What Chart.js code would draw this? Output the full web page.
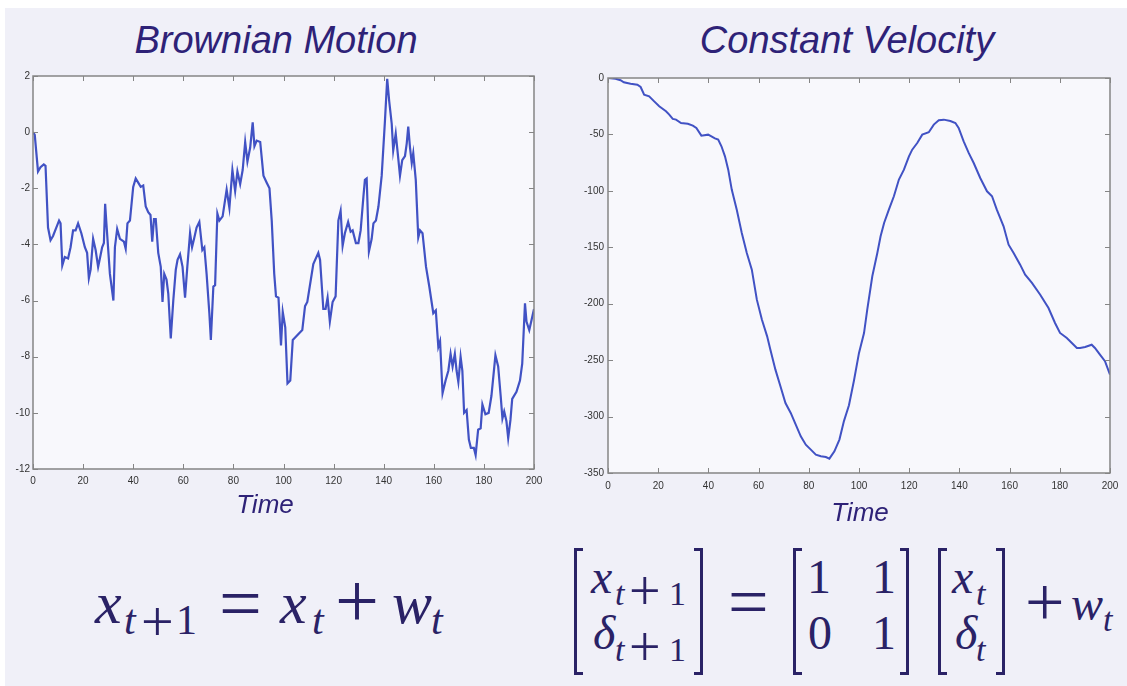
<!DOCTYPE html>
<html>
<head>
<meta charset="utf-8">
<title>Brownian Motion and Constant Velocity</title>
<script src="https://cdn.jsdelivr.net/npm/chart.js@4.4.1/dist/chart.umd.min.js"></script>
<style>
  html, body { margin: 0; padding: 0; background: #ffffff; width: 1127px; height: 686px; overflow: hidden; position: relative; }
  #stage { position: absolute; left: 5px; top: 8px; width: 1122px; height: 678px; background: #f0f0f8; }
  canvas { position: absolute; }
  #bmCanvas { left: 0; top: 0; }
  #cvCanvas { left: 560px; top: 0; }
  .ttl { position: absolute; font: italic 38px "Liberation Sans", Arial, sans-serif; line-height: 38px;
         color: #2e2277; white-space: nowrap; transform: translateX(-50%); }
  .axt { position: absolute; font: italic 26px "Liberation Sans", Arial, sans-serif; line-height: 26px;
         color: #2e2277; white-space: nowrap; transform: translateX(-50%); }
  /* formula glyphs: each block has line-height 0, so its baseline sits 0.3375em below its top */
  .p { position: absolute; line-height: 0; white-space: nowrap; color: #2a2266;
       font-family: "Liberation Serif", "Times New Roman", serif; }
  .i { font-style: italic; }
  .br { position: absolute; width: 9px; border: 3px solid #2a2266; box-sizing: border-box; }
  .br.l { border-right: none; }
  .br.r { border-left: none; }
</style>
</head>
<body>
<div id="stage"></div>

<div class="ttl" style="left:276px; top:21px;">Brownian Motion</div>
<div class="ttl" style="left:847px; top:21px;">Constant Velocity</div>

<canvas id="bmCanvas" width="560" height="500"></canvas>
<canvas id="cvCanvas" width="567" height="505"></canvas>

<div class="axt" style="left:265px; top:491px;">Time</div>
<div class="axt" style="left:860px; top:499px;">Time</div>

<!-- x_{t+1} = x_t + w_t -->
<span class="p i" style="left:95px;top:603px;font-size:60px">x</span>
<span class="p i" style="left:124px;top:620px;font-size:42px">t</span>
<span class="p" style="left:141px;top:622px;font-size:58px">+</span>
<span class="p" style="left:176px;top:620px;font-size:42px">1</span>
<span class="p" style="left:219px;top:603px;font-size:76px">=</span>
<span class="p i" style="left:280px;top:603px;font-size:60px">x</span>
<span class="p i" style="left:312px;top:620px;font-size:42px">t</span>
<span class="p" style="left:335px;top:601px;font-size:78px">+</span>
<span class="p i" style="left:392px;top:603px;font-size:60px">w</span>
<span class="p i" style="left:431px;top:620px;font-size:42px">t</span>

<!-- [x_{t+1}; δ_{t+1}] = [1 1; 0 1] [x_t; δ_t] + w_t -->
<div class="br l" style="left:574px;top:548px;height:127px"></div>
<span class="p i" style="left:591px;top:577px;font-size:48px">x</span>
<span class="p i" style="left:615px;top:594px;font-size:34px">t</span>
<span class="p" style="left:629px;top:591px;font-size:56px">+</span>
<span class="p" style="left:669px;top:594px;font-size:34px">1</span>
<span class="p i" style="left:593px;top:633px;font-size:48px">δ</span>
<span class="p i" style="left:615px;top:650px;font-size:34px">t</span>
<span class="p" style="left:629px;top:647px;font-size:56px">+</span>
<span class="p" style="left:669px;top:650px;font-size:34px">1</span>
<div class="br r" style="left:694px;top:548px;height:127px"></div>

<span class="p" style="left:728px;top:602px;font-size:72px">=</span>

<div class="br l" style="left:793px;top:548px;height:127px"></div>
<span class="p" style="left:807px;top:577px;font-size:48px">1</span>
<span class="p" style="left:808px;top:633px;font-size:48px">0</span>
<span class="p" style="left:872px;top:577px;font-size:48px">1</span>
<span class="p" style="left:872px;top:633px;font-size:48px">1</span>
<div class="br r" style="left:900px;top:548px;height:127px"></div>

<div class="br l" style="left:938px;top:548px;height:127px"></div>
<span class="p i" style="left:952px;top:577px;font-size:48px">x</span>
<span class="p i" style="left:976px;top:594px;font-size:34px">t</span>
<span class="p i" style="left:955px;top:633px;font-size:48px">δ</span>
<span class="p i" style="left:976px;top:650px;font-size:34px">t</span>
<div class="br r" style="left:996px;top:548px;height:127px"></div>

<span class="p" style="left:1025px;top:603px;font-size:70px">+</span>
<span class="p i" style="left:1071px;top:604px;font-size:48px">w</span>
<span class="p i" style="left:1103px;top:620px;font-size:34px">t</span>

<script>
// ---- Brownian motion: x(t+1) = x(t) + w(t) ----
const bmTime = [
  0, 0.7, 2, 3, 4.3, 5, 6, 7, 8, 9.3, 10.4, 11, 11.7, 12.7, 14, 15, 16, 17, 18, 19.3,
  20.7, 21.6, 22.3, 23, 24, 25, 26, 26.7, 27.6, 28.3, 28.8, 29.3, 30.7, 32.1, 32.7, 33.6, 34.7, 36.3, 37, 37.7,
  38.7, 40, 41, 42, 43, 44, 45, 46, 46.9, 47.6, 48.3, 49, 50, 51, 51.7, 52.4, 53.3, 54, 55, 56,
  57, 57.7, 58.7, 59.7, 60.7, 61.6, 62.7, 63.5, 64.3, 65.3, 66.4, 67.6, 68.4, 69.3, 70.4, 71, 72, 72.7, 73.6, 74.4,
  75.7, 77.3, 78.4, 79.6, 80.7, 81.6, 82.7, 83.7, 84.7, 85.6, 86.7, 87.7, 88.4, 89.3, 90.7, 92, 93.3, 94.4, 95.3, 96.3,
  97, 98, 99, 99.7, 100.7, 101.6, 102.7, 103.7, 105.3, 107.5, 108.6, 109.5, 111.9, 113.9, 114.6, 115.9, 116.8, 117.6, 118.5, 119.6,
  120.8, 121.9, 122.8, 123.6, 124.5, 125.8, 126.8, 127.6, 128.9, 129.9, 130.8, 131.9, 132.5, 133.2, 133.5, 134.1, 135.2, 135.9, 136.9, 137.9,
  139.2, 140.5, 141.4, 142.2, 143.2, 143.8, 144.8, 145.6, 146.5, 147.4, 148.5, 149.2, 149.8, 150.5, 151.2, 151.8, 152.8, 153.8, 154.5, 155.5,
  156.9, 158.2, 159.8, 160.8, 161.8, 162.5, 163.5, 164.7, 165.8, 166.7, 167.5, 168.4, 169.1, 169.8, 170.7, 171.4, 172.1, 173.1, 174, 174.8,
  176, 176.7, 177.7, 178.7, 179.4, 180.6, 181.9, 183, 184.6, 185.7, 186.7, 187.4, 188.1, 189, 189.7, 190.6, 191.3, 193, 194.4, 195.3,
  196.4, 197, 198.1, 199, 200
];
const bmPosition = [
  0, -0.1, -1.4, -1.25, -1.15, -1.2, -3.4, -3.85, -3.7, -3.4, -3.15, -3.25, -4.75, -4.45, -4.5, -4.1, -3.5, -3.5, -3.25, -3.6,
  -4.1, -4.3, -5.2, -4.9, -3.8, -4.2, -4.8, -4.5, -4.1, -3.95, -2.55, -3.25, -5.05, -6.0, -4.1, -3.45, -3.8, -3.9, -4.15, -3.25,
  -3.15, -1.95, -1.65, -1.8, -1.95, -1.9, -2.65, -2.85, -2.95, -3.9, -3.1, -3.1, -4.3, -4.8, -6.05, -5.05, -5.25, -5.75, -7.35, -6.0,
  -4.9, -4.55, -4.35, -4.8, -5.9, -4.8, -3.6, -4.1, -3.8, -3.4, -3.2, -4.2, -4.1, -5.05, -6.45, -7.4, -5.5, -5.45, -2.9, -3.15,
  -3.0, -2.05, -2.7, -1.35, -2.1, -1.4, -1.85, -1.35, -0.35, -1.05, -0.55, 0.35, -0.5, -0.3, -0.35, -1.55, -1.8, -2.0, -3.15, -5.05,
  -5.85, -5.9, -7.6, -6.4, -6.95, -8.95, -8.85, -7.4, -7.25, -7.05, -6.2, -6.05, -4.7, -4.3, -4.55, -6.3, -6.3, -5.9, -6.75, -6.05,
  -5.85, -3.15, -2.8, -4.05, -3.6, -3.2, -3.55, -3.5, -3.95, -3.95, -3.5, -2.3, -1.7, -1.65, -2.45, -4.25, -3.8, -3.25, -3.15, -2.65,
  -1.55, 0.4, 1.9, 1.1, 0.3, -0.65, -0.05, -0.75, -1.55, -1.0, -0.85, -0.4, 0.2, -0.55, -1.1, -0.75, -1.7, -3.75, -3.5, -3.6,
  -4.8, -5.5, -6.45, -6.35, -7.65, -7.45, -9.3, -8.85, -8.5, -7.9, -8.35, -7.9, -8.5, -8.9, -8.0, -8.5, -10.0, -9.9, -10.95, -11.25,
  -11.25, -11.5, -10.6, -10.55, -9.7, -10.05, -10.0, -9.4, -7.95, -8.35, -9.4, -10.2, -9.95, -10.3, -10.9, -10.25, -9.5, -9.25, -8.85, -8.25,
  -6.1, -6.75, -7.05, -6.7, -6.3
];

// ---- Constant velocity model ----
const cvTime = [
  0, 3, 5, 6.3, 9, 11.7, 13, 14.4, 16.4, 18.4, 20.4, 23.1, 24.4, 25.8, 27.1, 29.1, 31.8, 33.8, 35.2, 37.2,
  39.9, 41.2, 42.6, 43.9, 45.2, 46.6, 47.9, 49.3, 51.3, 53.3, 55.3, 57.3, 59.3, 61.3, 63.4, 64.7, 66.7, 68.7, 70.7, 72.8,
  74.8, 76.8, 78.8, 80.8, 82.8, 84.8, 86.8, 88.2, 90.2, 92.2, 94, 96, 98, 100, 102, 103.3, 105.3, 107.3, 108.6, 110,
  111.9, 113.9, 115.9, 117.9, 119.9, 121.2, 123.2, 125.2, 127.8, 129.8, 131.8, 133.8, 136.4, 138.4, 139.7, 141.7, 143.7, 145.7, 148.3, 151,
  153, 154.9, 157.6, 159.6, 161.6, 164.2, 166.2, 168.9, 172.2, 175.5, 178.1, 180.1, 182.8, 184.8, 186.8, 188.1, 190.1, 192.7, 194, 196,
  198, 200
];
const cvPosition = [
  0, -0.6, -2, -3.8, -5, -5.9, -8, -14.8, -16.2, -20.7, -25.1, -29.5, -32.5, -36.3, -36.9, -39.9, -40.5, -42.2, -44.3, -51.1,
  -50.2, -51.7, -53.5, -54.6, -60.5, -69.4, -81.2, -98.9, -116.7, -137.3, -155, -169.8, -196.4, -214, -228.9, -240.7, -258.4, -273.2, -288, -296.8,
  -307.1, -317.5, -324.9, -329.3, -333.7, -335.2, -335.8, -337.3, -330.8, -320.4, -304, -290, -268, -243.6, -226, -205, -175.7, -155, -140.3, -128.5,
  -116.7, -104.8, -90, -81.2, -69.4, -63.5, -57.6, -50.2, -48.1, -41.3, -37.5, -36.9, -38.1, -39.9, -44.3, -56.1, -66.4, -75.3, -88.6, -100.4,
  -104.8, -116.7, -131.4, -147.7, -155, -165.4, -174.2, -181.6, -192, -203.8, -217.1, -225.9, -230.4, -234.8, -239.2, -239.2, -238.3, -236.3, -239.2, -245.1,
  -251, -262.8
];

// ---- Tick values ----
const timeTicks = [0, 20, 40, 60, 80, 100, 120, 140, 160, 180, 200];
const bmTicks = [2, 0, -2, -4, -6, -8, -10, -12];
const cvTicks = [0, -50, -100, -150, -200, -250, -300, -350];

const LINE_COLOR = '#4152c4';
const TICK_FONT = { family: '"Liberation Sans", Arial, sans-serif', size: 10 };

// Plot box: light fill behind the data, grey frame with inward ticks on all four sides.
const boxPlugin = {
  id: 'box',
  beforeDatasetsDraw(chart) {
    const { ctx, chartArea: a } = chart;
    ctx.save();
    ctx.fillStyle = '#f8f8fc';
    ctx.fillRect(a.left, a.top, a.right - a.left, a.bottom - a.top);
    ctx.restore();
  },
  afterDraw(chart) {
    const { ctx, chartArea: a, scales: { x, y } } = chart;
    const L = 5;
    ctx.save();
    ctx.strokeStyle = '#858585';
    ctx.lineWidth = 1.5;
    ctx.strokeRect(a.left, a.top, a.right - a.left, a.bottom - a.top);
    ctx.lineWidth = 1;
    ctx.beginPath();
    x.ticks.forEach(t => {
      const px = Math.round(x.getPixelForValue(t.value)) + 0.5;
      ctx.moveTo(px, a.bottom); ctx.lineTo(px, a.bottom - L);
      ctx.moveTo(px, a.top); ctx.lineTo(px, a.top + L);
    });
    y.ticks.forEach(t => {
      const py = Math.round(y.getPixelForValue(t.value)) + 0.5;
      ctx.moveTo(a.left, py); ctx.lineTo(a.left + L, py);
      ctx.moveTo(a.right, py); ctx.lineTo(a.right - L, py);
    });
    ctx.stroke();
    ctx.restore();
  }
};

function makePlot(canvasId, times, values, cfg) {
  const points = times.map((t, i) => ({ x: t, y: values[i] }));
  return new Chart(document.getElementById(canvasId), {
    type: 'line',
    data: {
      datasets: [{
        data: points,
        borderColor: LINE_COLOR,
        borderWidth: cfg.lineWidth,
        pointRadius: 0,
        tension: 0,
        fill: false
      }]
    },
    options: {
      responsive: false,
      animation: false,
      events: [],
      layout: { padding: cfg.padding },
      plugins: { legend: { display: false }, tooltip: { enabled: false }, title: { display: false } },
      scales: {
        x: {
          type: 'linear', min: 0, max: 200,
          afterBuildTicks: s => { s.ticks = timeTicks.map(v => ({ value: v })); },
          afterFit: s => { s.height = cfg.xHeight; },
          grid: { display: false, drawTicks: false },
          border: { display: false },
          ticks: { color: '#333333', font: TICK_FONT, padding: cfg.xPad, maxRotation: 0, autoSkip: false }
        },
        y: {
          type: 'linear', min: cfg.yMin, max: cfg.yMax,
          afterBuildTicks: s => { s.ticks = cfg.yTicks.map(v => ({ value: v })); },
          afterFit: s => { s.width = cfg.yWidth; },
          grid: { display: false, drawTicks: false },
          border: { display: false },
          ticks: { color: '#333333', font: TICK_FONT, padding: cfg.yPad, autoSkip: false }
        }
      }
    },
    plugins: [boxPlugin]
  });
}

makePlot('bmCanvas', bmTime, bmPosition, {
  yMin: -12, yMax: 2, yTicks: bmTicks, lineWidth: 2.2,
  padding: { top: 76, right: 26, bottom: 11, left: 0 },
  yWidth: 33, xHeight: 20, xPad: 6, yPad: 3
});

makePlot('cvCanvas', cvTime, cvPosition, {
  yMin: -350, yMax: 0, yTicks: cvTicks, lineWidth: 2,
  padding: { top: 78, right: 17, bottom: 12, left: 0 },
  yWidth: 48, xHeight: 20, xPad: 7, yPad: 4
});
</script>
</body>
</html>
